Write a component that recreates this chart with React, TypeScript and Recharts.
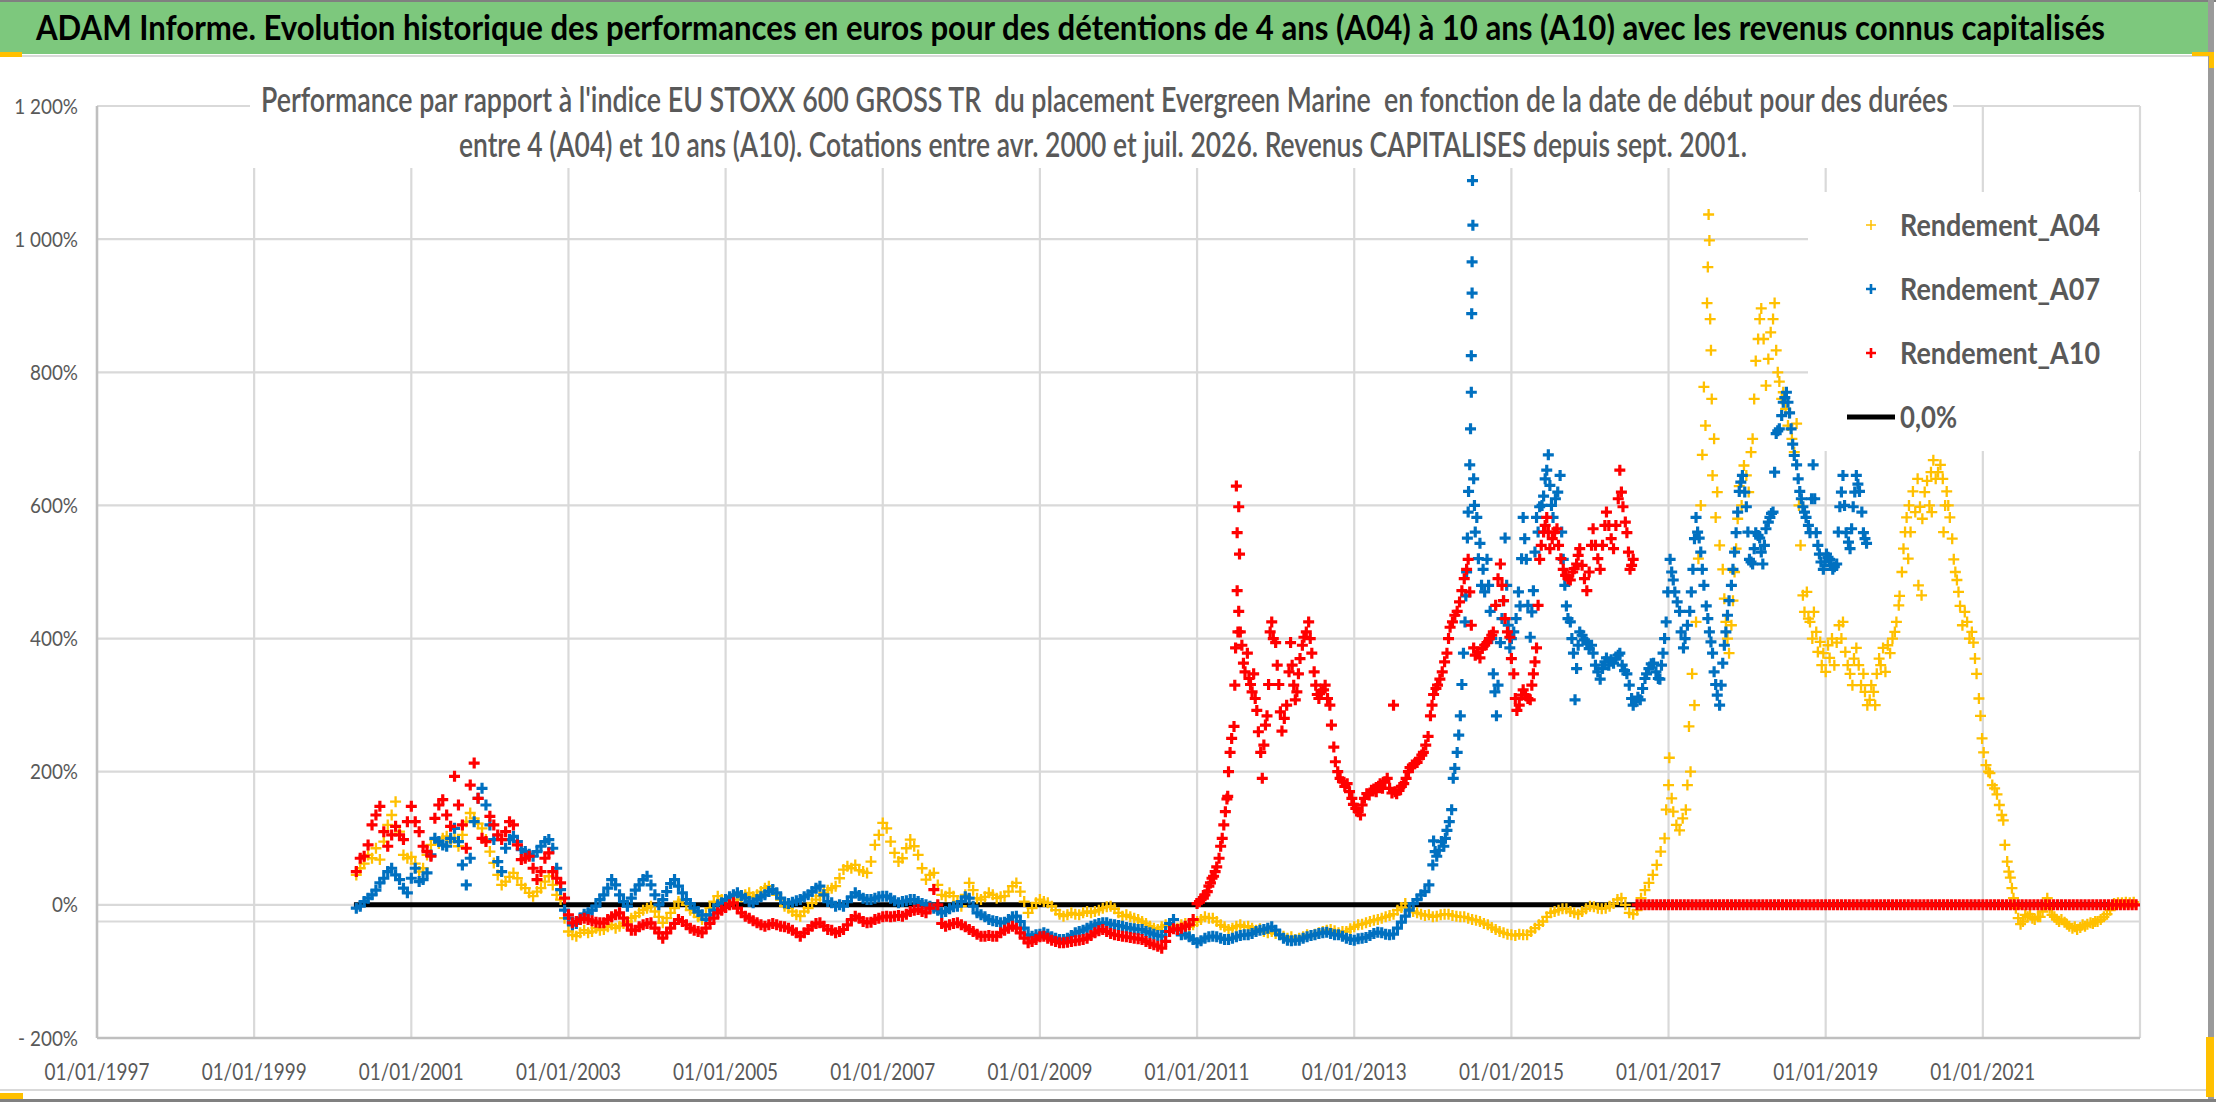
import React from "react";
import { ScatterChart, Scatter, XAxis, YAxis, CartesianGrid, ReferenceLine } from "recharts";

const W = 2216;
const H = 1102;
const FONT = "Lato, 'Open Sans', sans-serif";

const xTicks = [1997, 1999, 2001, 2003, 2005, 2007, 2009, 2011, 2013, 2015, 2017, 2019, 2021];
const xTickLabels = [
  "01/01/1997", "01/01/1999", "01/01/2001", "01/01/2003", "01/01/2005", "01/01/2007", "01/01/2009",
  "01/01/2011", "01/01/2013", "01/01/2015", "01/01/2017", "01/01/2019", "01/01/2021",
];
const yTicks = [-200, 0, 200, 400, 600, 800, 1000, 1200];
const yTickLabels = ["- 200%", "0%", "200%", "400%", "600%", "800%", "1 000%", "1 200%"];

// the horizontal axis of the original crosses a little under 0%
const axisCrossPct = -25;

// dense stretches, one quotation kept every STEP year from the given start
const STEP = 0.05;

const a04BandStart = 2000.3;
const a04Band = [
  45, 55, 62, 75, 70, 85, 68, 95, 120, 135, 155, 110, 75, 70, 72, 62, 50, 55, 75, 90,
  98, 92, 100, 103, 95, 100, 88, 105, 125, 138, 130, 122, 115, 98, 80, 63, 45, 30, 35, 42,
  48, 40, 30, 25, 18, 13, 20, 25, 35, 43, 30, 15, 8, -20, -40, -45, -47, -42, -38, -42,
  -40, -35, -38, -37, -33, -30, -35, -32, -28, -25, -20, -17, -12, -8, -5, -2, -10, -18, -27, -20,
  -12, -5, 5, 8, 0, -8, -12, -18, -22, -15, -5, 5, 13, 8, 5, 0, 3, 8, 12, 15,
  18, 12, 15, 20, 25, 28, 22, 15, 8, -2, -5, -10, -15, -17, -10, -5, 3, 8, 13, 18,
  22, 25, 28, 40, 53, 58, 55, 60, 52, 50, 48, 65, 90, 105, 123, 115, 95, 78, 65, 70,
  85, 98, 88, 75, 55, 38, 45, 48, 30, 15, 13, 18, 13, 5, -2, 15, 33, 22, 10, 8,
  12, 18, 15, 10, 12, 13, 20, 28, 33, 20, 5, -12, -5, 3, 8, 5, 3, -2, -8, -14,
  -17, -15, -12, -14, -15, -12, -10, -12, -10, -8, -5, -3, -2, -6, -12, -17, -15, -18, -20, -22,
  -25, -28, -32, -35, -37, -33, -30, -32, -32, -35, -30, -28, -33, -30, -25, -22, -18, -20, -20, -25,
  -30, -33, -37, -35, -32, -30, -33, -32, -35, -38, -36, -40, -42, -40, -43, -45, -47, -50, -48, -52,
  -50, -48, -45, -46, -44, -42, -40, -38, -37, -39, -42, -40, -40, -36, -33, -30, -29, -27, -25, -23,
  -22, -20, -18, -16, -14, -8, -4, 2, -5, -10, -12, -14, -16, -15, -18, -17, -15, -14, -14, -16,
  -17, -18, -18, -20, -22, -23, -25, -28, -30, -34, -37, -40, -42, -44, -45, -46, -44, -45, -45, -40,
  -35, -30, -25, -18, -12, -10, -8, -6, -6, -10, -12, -14, -10, -6, -2, -3, -5, -6, -5, -2,
  2, 8, 10, 0, -12, -14, -8, 10, 22, 33, 45, 60, 80, 100,
];
const a04Cloud: [number, number][] = [
  [2016.97, 143], [2017.0, 180], [2017.01, 221], [2017.04, 160], [2017.06, 140], [2017.1, 120], [2017.14, 112],
  [2017.18, 130], [2017.22, 143], [2017.24, 180], [2017.26, 268], [2017.28, 200], [2017.3, 347], [2017.33, 300],
  [2017.35, 425], [2017.38, 520], [2017.41, 600], [2017.43, 676], [2017.45, 778], [2017.47, 720], [2017.49, 904],
  [2017.5, 958], [2017.51, 1037], [2017.52, 998], [2017.53, 880], [2017.54, 833], [2017.55, 760], [2017.56, 645],
  [2017.58, 700], [2017.6, 582], [2017.62, 620], [2017.65, 540], [2017.69, 504], [2017.71, 460], [2017.73, 425],
  [2017.75, 400], [2017.77, 378], [2017.8, 420], [2017.82, 457], [2017.84, 500], [2017.86, 535], [2017.88, 580],
  [2017.9, 629], [2017.93, 600], [2017.96, 660], [2017.99, 645], [2018.02, 620], [2018.05, 680], [2018.07, 700],
  [2018.09, 760], [2018.11, 817], [2018.14, 850], [2018.16, 880], [2018.18, 896], [2018.21, 850], [2018.24, 780],
  [2018.27, 820], [2018.3, 860], [2018.33, 880], [2018.35, 904], [2018.37, 833], [2018.39, 800], [2018.41, 786],
  [2018.44, 760], [2018.46, 770], [2018.49, 745], [2018.52, 720], [2018.54, 739], [2018.57, 700], [2018.6, 680],
  [2018.63, 723], [2018.66, 600], [2018.68, 540], [2018.71, 465], [2018.73, 440], [2018.76, 470], [2018.78, 430],
  [2018.8, 425], [2018.83, 400], [2018.85, 440], [2018.88, 410], [2018.9, 380], [2018.93, 395], [2018.95, 360],
  [2018.97, 378], [2019.0, 350], [2019.03, 390], [2019.05, 371], [2019.08, 400], [2019.11, 360], [2019.14, 394],
  [2019.17, 420], [2019.2, 400], [2019.22, 425], [2019.25, 380], [2019.28, 360], [2019.31, 347], [2019.34, 330],
  [2019.36, 370], [2019.39, 386], [2019.42, 360], [2019.45, 330], [2019.48, 347], [2019.5, 320], [2019.53, 300],
  [2019.56, 308], [2019.58, 330], [2019.61, 320], [2019.63, 300], [2019.65, 347], [2019.68, 370], [2019.7, 360],
  [2019.73, 386], [2019.76, 350], [2019.79, 390], [2019.82, 378], [2019.85, 400], [2019.88, 410], [2019.9, 425],
  [2019.93, 450], [2019.94, 464], [2019.97, 500], [2019.99, 535], [2020.01, 560], [2020.03, 582], [2020.05, 520],
  [2020.06, 600], [2020.08, 560], [2020.11, 621], [2020.14, 590], [2020.17, 640], [2020.18, 480], [2020.2, 598],
  [2020.22, 465], [2020.23, 580], [2020.26, 620], [2020.29, 637], [2020.32, 600], [2020.34, 650], [2020.35, 590],
  [2020.37, 668], [2020.4, 640], [2020.43, 650], [2020.46, 661], [2020.49, 640], [2020.5, 560], [2020.52, 600],
  [2020.54, 621], [2020.56, 600], [2020.58, 582], [2020.61, 550], [2020.63, 519], [2020.65, 500], [2020.67, 488],
  [2020.69, 470], [2020.71, 449], [2020.74, 420], [2020.77, 440], [2020.8, 425], [2020.83, 400], [2020.86, 410],
  [2020.88, 394], [2020.9, 370], [2020.92, 347], [2020.95, 310], [2020.97, 284], [2020.99, 250], [2021.01, 229],
  [2021.04, 210], [2021.07, 200], [2021.09, 198], [2021.12, 180], [2021.15, 175], [2021.18, 166], [2021.21, 150],
  [2021.24, 135], [2021.26, 127], [2021.28, 90], [2021.31, 65], [2021.33, 50], [2021.35, 41], [2021.37, 25],
  [2021.39, 10], [2021.42, -5], [2021.45, -20], [2021.48, -29], [2021.51, -25], [2021.54, -15], [2021.57, -18],
  [2021.6, -14], [2021.63, -20], [2021.66, -22], [2021.7, -18], [2021.73, -18], [2021.76, -10], [2021.79, 0],
  [2021.82, 10], [2021.85, -5], [2021.88, -15], [2021.91, -18], [2021.94, -22], [2021.97, -25], [2022.0, -22],
  [2022.04, -26], [2022.07, -29], [2022.1, -32], [2022.14, -35], [2022.17, -33], [2022.2, -37], [2022.24, -34],
  [2022.27, -30], [2022.3, -32], [2022.33, -29], [2022.37, -27], [2022.4, -28], [2022.43, -25], [2022.46, -25],
  [2022.5, -22], [2022.54, -18], [2022.58, -14], [2022.62, -8], [2022.67, 2], [2022.72, 3], [2022.77, 3],
  [2022.82, 4], [2022.87, 3], [2022.92, 4],
];

const a07BandStart = 2000.3;
const a07Band = [
  -5, -2, 5, 10, 15, 22, 33, 40, 50, 55, 45, 38, 25, 18, 40, 55, 35, 38, 48, 75,
  100, 95, 90, 88, 100, 115, 95, 60, 30, 70, 125, 160, 175, 150, 120, 98, 65, 50, 85, 98,
  103, 95, 83, 80, 76, 73, 80, 88, 95, 98, 85, 55, 23, -8, -20, -30, -28, -20, -14, -12,
  -8, -2, 8, 15, 25, 38, 30, 15, 5, -2, 10, 22, 30, 38, 43, 30, 15, 0, 8, 20,
  32, 38, 28, 18, 8, 2, -5, -10, -15, -22, -15, -8, 0, 3, 8, 12, 15, 18, 14, 10,
  5, 3, 8, 12, 15, 20, 23, 18, 10, 3, 2, 4, 6, 8, 12, 15, 20, 25, 28, 15,
  5, 3, -2, 0, -2, 5, 12, 18, 14, 10, 8, 8, 10, 12, 13, 13, 10, 6, 3, 5,
  6, 8, 8, 5, 2, 0, -2, -5, -8, -12, -10, -6, -3, -2, 5, 12, 10, -2, -12, -15,
  -18, -22, -24, -25, -27, -26, -22, -18, -17, -25, -35, -45, -47, -45, -44, -42, -44, -48, -50, -52,
  -52, -50, -46, -42, -40, -38, -35, -32, -30, -28, -27, -27, -29, -30, -31, -32, -34, -35, -36, -37,
  -37, -40, -42, -44, -46, -47, -40, -28, -22, -38, -45, -44, -48, -52, -57, -54, -50, -48, -47, -48,
  -50, -52, -52, -50, -48, -46, -45, -45, -43, -40, -38, -37, -35, -33, -38, -45, -50, -53, -54, -53,
  -53, -50, -48, -46, -45, -43, -42, -41, -43, -45, -45, -47, -50, -52, -53, -51, -50, -49, -46, -43,
  -41, -42, -44, -45, -44, -35, -26, -17, -8, 2, 8, 15, 20, 30,
];
const a07Cloud: [number, number][] = [
  [2014.0, 60], [2014.01, 96], [2014.03, 80], [2014.05, 73], [2014.08, 82], [2014.11, 95], [2014.14, 88],
  [2014.16, 100], [2014.18, 112], [2014.21, 125], [2014.24, 143], [2014.26, 190], [2014.28, 205], [2014.31, 229],
  [2014.33, 255], [2014.35, 284], [2014.37, 331], [2014.39, 378], [2014.41, 425], [2014.42, 464], [2014.43, 500],
  [2014.44, 551], [2014.45, 590], [2014.455, 621], [2014.47, 661], [2014.48, 715], [2014.49, 770], [2014.49, 825],
  [2014.495, 888], [2014.5, 919], [2014.5, 966], [2014.51, 1021], [2014.505, 1088], [2014.52, 640], [2014.53, 600],
  [2014.54, 560], [2014.56, 582], [2014.58, 520], [2014.6, 543], [2014.62, 480], [2014.64, 504], [2014.66, 470],
  [2014.69, 519], [2014.71, 480], [2014.73, 441], [2014.75, 400], [2014.77, 347], [2014.79, 320], [2014.81, 284],
  [2014.83, 330], [2014.86, 394], [2014.88, 430], [2014.9, 457], [2014.92, 551], [2014.94, 480], [2014.96, 420],
  [2014.98, 386], [2015.0, 400], [2015.03, 410], [2015.06, 430], [2015.09, 470], [2015.11, 449], [2015.13, 520],
  [2015.15, 582], [2015.17, 550], [2015.19, 519], [2015.21, 450], [2015.24, 402], [2015.26, 440], [2015.28, 472],
  [2015.3, 530], [2015.32, 582], [2015.34, 560], [2015.36, 598], [2015.39, 600], [2015.41, 614], [2015.43, 640],
  [2015.45, 653], [2015.47, 676], [2015.49, 630], [2015.51, 600], [2015.53, 582], [2015.56, 610], [2015.59, 620],
  [2015.62, 645], [2015.64, 560], [2015.66, 519], [2015.68, 480], [2015.7, 449], [2015.72, 430], [2015.75, 425],
  [2015.77, 400], [2015.79, 378], [2015.81, 308], [2015.83, 355], [2015.85, 390], [2015.87, 410], [2015.9, 405],
  [2015.93, 398], [2015.96, 394], [2015.99, 385], [2016.02, 390], [2016.04, 378], [2016.07, 360], [2016.1, 350],
  [2016.13, 339], [2016.16, 355], [2016.19, 365], [2016.21, 371], [2016.24, 360], [2016.27, 368], [2016.3, 363],
  [2016.33, 370], [2016.36, 375], [2016.38, 378], [2016.41, 360], [2016.44, 352], [2016.47, 347], [2016.5, 330],
  [2016.53, 310], [2016.55, 300], [2016.58, 305], [2016.61, 312], [2016.64, 308], [2016.67, 325], [2016.7, 340],
  [2016.72, 347], [2016.75, 355], [2016.78, 362], [2016.81, 363], [2016.84, 350], [2016.87, 340], [2016.89, 339],
  [2016.91, 360], [2016.93, 378], [2016.95, 400], [2016.97, 425], [2016.99, 470], [2017.02, 519], [2017.04, 500],
  [2017.06, 488], [2017.08, 470], [2017.11, 455], [2017.14, 441], [2017.16, 410], [2017.19, 386], [2017.21, 400],
  [2017.24, 420], [2017.27, 441], [2017.29, 470], [2017.31, 504], [2017.33, 550], [2017.35, 582], [2017.37, 560],
  [2017.39, 551], [2017.41, 530], [2017.43, 504], [2017.45, 480], [2017.48, 449], [2017.5, 430], [2017.52, 410],
  [2017.54, 395], [2017.56, 378], [2017.58, 350], [2017.6, 331], [2017.62, 315], [2017.65, 300], [2017.67, 330],
  [2017.69, 363], [2017.71, 390], [2017.73, 410], [2017.75, 435], [2017.77, 457], [2017.8, 480], [2017.82, 504],
  [2017.84, 530], [2017.86, 559], [2017.88, 590], [2017.9, 621], [2017.92, 635], [2017.94, 645], [2017.97, 620],
  [2017.99, 598], [2018.01, 560], [2018.03, 519], [2018.05, 515], [2018.07, 512], [2018.09, 535], [2018.11, 559],
  [2018.14, 555], [2018.16, 551], [2018.18, 530], [2018.2, 512], [2018.22, 540], [2018.24, 565], [2018.27, 575],
  [2018.29, 582], [2018.31, 588], [2018.33, 590], [2018.35, 650], [2018.37, 708], [2018.39, 712], [2018.41, 715],
  [2018.44, 735], [2018.46, 755], [2018.48, 762], [2018.5, 770], [2018.52, 755], [2018.54, 739], [2018.56, 715],
  [2018.58, 692], [2018.6, 675], [2018.63, 661], [2018.65, 640], [2018.67, 621], [2018.69, 610], [2018.71, 598],
  [2018.73, 590], [2018.75, 582], [2018.78, 570], [2018.8, 559], [2018.82, 610], [2018.84, 661], [2018.86, 610],
  [2018.88, 559], [2018.9, 540], [2018.92, 527], [2018.94, 515], [2018.97, 504], [2018.99, 515], [2019.01, 527],
  [2019.03, 522], [2019.05, 519], [2019.07, 510], [2019.09, 504], [2019.11, 508], [2019.14, 512], [2019.16, 560],
  [2019.18, 598], [2019.2, 620], [2019.22, 645], [2019.24, 600], [2019.26, 559], [2019.29, 545], [2019.31, 535],
  [2019.33, 565], [2019.35, 598], [2019.37, 620], [2019.39, 645], [2019.41, 632], [2019.43, 621], [2019.46, 590],
  [2019.48, 559], [2019.5, 550], [2019.52, 543],
];

const a10BandStart = 2000.3;
const a10Band = [
  50, 70, 73, 90, 120, 135, 148, 110, 88, 105, 118, 105, 98, 125, 148, 125, 110, 88, 80, 73,
  130, 150, 158, 135, 118, 193, 150, 120, 85, 180, 213, 160, 100, 95, 133, 120, 105, 98, 110, 125,
  120, 90, 68, 70, 73, 55, 38, 50, 70, 78, 50, 40, 33, 10, -15, -27, -25, -22, -20, -22,
  -24, -26, -27, -27, -22, -18, -15, -12, -20, -30, -38, -38, -33, -30, -28, -27, -35, -42, -50, -42,
  -35, -28, -22, -25, -30, -35, -38, -40, -42, -35, -28, -20, -12, -8, -4, 0, 3, -5, -12, -17,
  -20, -24, -27, -30, -32, -30, -28, -30, -32, -33, -35, -38, -42, -47, -42, -37, -32, -28, -27, -32,
  -37, -38, -42, -40, -37, -30, -22, -17, -20, -25, -27, -26, -22, -20, -18, -17, -18, -17, -16, -17,
  -14, -10, -8, -7, -10, -12, -5, 23, 0, -28, -32, -30, -28, -27, -30, -33, -37, -40, -44, -47,
  -47, -46, -47, -47, -42, -38, -35, -32, -35, -42, -50, -57, -55, -52, -48, -47, -50, -53, -55, -57,
  -57, -56, -55, -54, -53, -52, -50, -46, -42, -39, -37, -40, -43, -45, -46, -47, -48, -49, -50, -51,
  -52, -55, -58, -60, -62, -65, -55, -40, -36, -37, -35, -32, -30, -22,
];
const a10Cloud: [number, number][] = [
  [2011.0, 2], [2011.03, 5], [2011.05, 8], [2011.08, 10], [2011.1, 15], [2011.13, 20], [2011.15, 28],
  [2011.17, 33], [2011.19, 40], [2011.21, 43], [2011.23, 50], [2011.25, 57], [2011.28, 70], [2011.3, 88],
  [2011.32, 100], [2011.34, 120], [2011.36, 140], [2011.38, 159], [2011.39, 163], [2011.4, 200], [2011.42, 229],
  [2011.44, 250], [2011.47, 268], [2011.48, 330], [2011.49, 386], [2011.5, 629], [2011.51, 559], [2011.51, 472],
  [2011.52, 410], [2011.53, 598], [2011.53, 441], [2011.54, 527], [2011.55, 410], [2011.57, 390], [2011.59, 363],
  [2011.61, 350], [2011.64, 378], [2011.66, 340], [2011.68, 331], [2011.7, 320], [2011.72, 347], [2011.74, 310],
  [2011.76, 292], [2011.78, 260], [2011.81, 229], [2011.83, 190], [2011.85, 240], [2011.87, 270], [2011.89, 284],
  [2011.91, 331], [2011.93, 410], [2011.95, 425], [2011.97, 400], [2012.0, 394], [2012.02, 360], [2012.04, 331],
  [2012.06, 290], [2012.08, 261], [2012.11, 280], [2012.14, 300], [2012.17, 350], [2012.19, 394], [2012.21, 360],
  [2012.23, 330], [2012.25, 308], [2012.27, 320], [2012.29, 347], [2012.31, 370], [2012.34, 390], [2012.36, 402],
  [2012.39, 410], [2012.42, 425], [2012.44, 400], [2012.46, 378], [2012.49, 350], [2012.51, 330], [2012.53, 316],
  [2012.55, 310], [2012.58, 320], [2012.61, 323], [2012.63, 330], [2012.66, 310], [2012.69, 300], [2012.71, 270],
  [2012.74, 237], [2012.76, 215], [2012.79, 200], [2012.82, 190], [2012.85, 185], [2012.88, 178], [2012.91, 182],
  [2012.94, 170], [2012.97, 160], [2012.99, 151], [2013.02, 145], [2013.05, 140], [2013.08, 135], [2013.1, 150],
  [2013.13, 160], [2013.16, 167], [2013.19, 165], [2013.22, 172], [2013.25, 174], [2013.28, 170], [2013.31, 178],
  [2013.33, 182], [2013.36, 175], [2013.39, 185], [2013.42, 190], [2013.45, 175], [2013.48, 168], [2013.5, 300],
  [2013.52, 170], [2013.54, 167], [2013.57, 172], [2013.6, 178], [2013.63, 182], [2013.66, 190], [2013.69, 200],
  [2013.71, 206], [2013.74, 210], [2013.77, 212], [2013.8, 214], [2013.83, 220], [2013.86, 225], [2013.88, 229],
  [2013.91, 240], [2013.94, 253], [2013.97, 284], [2013.99, 300], [2014.01, 316], [2014.04, 325], [2014.06, 330],
  [2014.09, 339], [2014.12, 350], [2014.15, 365], [2014.18, 378], [2014.2, 400], [2014.22, 417], [2014.25, 425],
  [2014.28, 435], [2014.31, 441], [2014.34, 455], [2014.37, 472], [2014.4, 490], [2014.43, 504], [2014.45, 519],
  [2014.47, 470], [2014.49, 420], [2014.52, 386], [2014.54, 375], [2014.57, 380], [2014.6, 371], [2014.63, 385],
  [2014.66, 390], [2014.69, 394], [2014.72, 400], [2014.75, 405], [2014.77, 410], [2014.8, 450], [2014.83, 490],
  [2014.86, 512], [2014.88, 480], [2014.9, 457], [2014.92, 430], [2014.95, 410], [2014.98, 402], [2015.0, 370],
  [2015.03, 347], [2015.05, 310], [2015.07, 292], [2015.1, 300], [2015.13, 315], [2015.15, 323], [2015.18, 315],
  [2015.21, 310], [2015.24, 308], [2015.26, 330], [2015.28, 347], [2015.3, 365], [2015.32, 386], [2015.34, 450],
  [2015.36, 519], [2015.38, 540], [2015.41, 560], [2015.43, 570], [2015.45, 582], [2015.47, 560], [2015.49, 535],
  [2015.52, 550], [2015.55, 560], [2015.58, 565], [2015.6, 540], [2015.63, 520], [2015.66, 504], [2015.69, 495],
  [2015.72, 490], [2015.75, 488], [2015.78, 500], [2015.8, 505], [2015.83, 512], [2015.85, 525], [2015.87, 535],
  [2015.9, 510], [2015.93, 490], [2015.96, 472], [2015.99, 500], [2016.02, 540], [2016.04, 565], [2016.07, 540],
  [2016.1, 520], [2016.13, 504], [2016.16, 540], [2016.19, 570], [2016.21, 590], [2016.24, 570], [2016.27, 550],
  [2016.3, 535], [2016.33, 570], [2016.36, 610], [2016.38, 653], [2016.4, 620], [2016.42, 598], [2016.45, 575],
  [2016.47, 559], [2016.49, 530], [2016.51, 504], [2016.53, 510], [2016.55, 519],
];
// from sept. 2016 the 10-year holdings are not complete: plotted at 0%
const a10ZeroStart = 2016.6;
const a10Zero = [
  0, 0, 0, 0, 0, 0, 0, 0, 0, 0, 0, 0, 0, 0, 0, 0, 0, 0, 0, 0, 0, 0, 0, 0, 0, 0, 0, 0, 0, 0, 0, 0,
  0, 0, 0, 0, 0, 0, 0, 0, 0, 0, 0, 0, 0, 0, 0, 0, 0, 0, 0, 0, 0, 0, 0, 0, 0, 0, 0, 0, 0, 0, 0, 0,
  0, 0, 0, 0, 0, 0, 0, 0, 0, 0, 0, 0, 0, 0, 0, 0, 0, 0, 0, 0, 0, 0, 0, 0, 0, 0, 0, 0, 0, 0, 0, 0,
  0, 0, 0, 0, 0, 0, 0, 0, 0, 0, 0, 0, 0, 0, 0, 0, 0, 0, 0, 0, 0, 0, 0, 0, 0, 0, 0, 0, 0, 0, 0, 0,
];

const zeroLine: [number, number][] = [[2000.27, 0], [2022.95, 0]];

const fromBand = (start: number, values: number[]) =>
  values.map((y, i) => ({ x: Math.round((start + i * STEP) * 100) / 100, y }));
const fromPairs = (pairs: [number, number][]) => pairs.map(([x, y]) => ({ x, y }));

const a04Data = [...fromBand(a04BandStart, a04Band), ...fromPairs(a04Cloud)];
const a07Data = [...fromBand(a07BandStart, a07Band), ...fromPairs(a07Cloud)];
const a10Data = [...fromBand(a10BandStart, a10Band), ...fromPairs(a10Cloud), ...fromBand(a10ZeroStart, a10Zero)];
const zeroData = fromPairs(zeroLine);

const YELLOW = "#FFC000";
const BLUE = "#0070C0";
const RED = "#FF0000";
const GRID = "#d9d9d9";
const TEXT = "#595959";

const plus = (color: string, width: number, half: number) => (props: any) => {
  const { cx, cy } = props;
  if (cx == null || cy == null) return <g />;
  return (
    <path
      d={`M${cx - half} ${cy}H${cx + half}M${cx} ${cy - half}V${cy + half}`}
      stroke={color}
      strokeWidth={width}
      fill="none"
    />
  );
};

const XTick = (props: any) => {
  const { x, y, payload } = props;
  const label = xTickLabels[xTicks.indexOf(payload.value)];
  return (
    <text x={x} y={y} dy="0.71em" textAnchor="middle" fontSize={23} fill={TEXT} fontFamily={FONT}
      textLength={105} lengthAdjust="spacingAndGlyphs">
      {label}
    </text>
  );
};

const YTick = (props: any) => {
  const { x, y, payload } = props;
  const label = yTickLabels[yTicks.indexOf(payload.value)];
  return (
    <g transform={`translate(${x},${y}) scale(0.9,1)`}>
      <text x={0} y={0} dy={7.5} textAnchor="end" fontSize={21} fill={TEXT} fontFamily={FONT}>
        {label}
      </text>
    </g>
  );
};

// text squeezed like the narrow font of the original: scaled group plus exact length
const Squeezed = ({ x, y, width, sx, size, weight, fill, children }: any) => (
  <g transform={`translate(${x},${y}) scale(${sx},1)`}>
    <text x={0} y={0} fontSize={size} fontWeight={weight} fill={fill} fontFamily={FONT}
      textLength={width / sx} lengthAdjust="spacingAndGlyphs" style={{ whiteSpace: "pre" }}>
      {children}
    </text>
  </g>
);

const legendItems = [
  { name: "Rendement_A04", color: YELLOW, width: 1.5, cy: 225 },
  { name: "Rendement_A07", color: BLUE, width: 2.6, cy: 289 },
  { name: "Rendement_A10", color: RED, width: 2.6, cy: 353 },
];

export default function App() {
  return (
    <div style={{ position: "absolute", left: 0, top: 0, width: W, height: H, background: "#fff" }}>
      <ScatterChart width={W} height={H} margin={{ top: 106, right: 76, bottom: 14, left: 7 }}>
        <CartesianGrid stroke={GRID} strokeWidth={2.2} />
        <XAxis
          dataKey="x"
          type="number"
          domain={[1997, 2023]}
          ticks={xTicks}
          interval={0}
          allowDataOverflow
          height={50}
          tickLine={false}
          tickSize={0}
          tickMargin={26}
          axisLine={{ stroke: "#bfbfbf", strokeWidth: 2.5 }}
          tick={<XTick />}
        />
        <YAxis
          dataKey="y"
          type="number"
          domain={[-200, 1200]}
          ticks={yTicks}
          interval={0}
          allowDataOverflow
          width={90}
          tickLine={false}
          tickSize={0}
          tickMargin={19}
          axisLine={{ stroke: "#bfbfbf", strokeWidth: 2.5 }}
          tick={<YTick />}
        />
        <ReferenceLine y={axisCrossPct} stroke={GRID} strokeWidth={2.2} />
        <Scatter
          name="0,0%"
          data={zeroData}
          line={{ stroke: "#000", strokeWidth: 5 }}
          shape={() => <g />}
          isAnimationActive={false}
        />
        <Scatter name="Rendement_A04" data={a04Data} shape={plus(YELLOW, 2.3, 5.5)} isAnimationActive={false} />
        <Scatter name="Rendement_A07" data={a07Data} shape={plus(BLUE, 3.2, 5.5)} isAnimationActive={false} />
        <Scatter name="Rendement_A10" data={a10Data} shape={plus(RED, 3.2, 5.5)} isAnimationActive={false} />
      </ScatterChart>

      <svg width={W} height={H} style={{ position: "absolute", left: 0, top: 0, pointerEvents: "none" }}>
        {/* title bar */}
        <rect x={0} y={0} width={2208} height={54} fill="#7DC87D" />
        <rect x={0} y={0} width={W} height={2} fill="#808080" />
        <rect x={0} y={55} width={2208} height={2} fill={GRID} />
        <Squeezed x={36} y={40} width={2069} sx={0.75} size={35} weight="bold" fill="#000">
          ADAM Informe. Evolution historique des performances en euros pour des détentions de 4 ans (A04) à 10 ans (A10) avec les revenus connus capitalisés
        </Squeezed>

        {/* chart frame */}
        <rect x={2208} y={0} width={6} height={H} fill="#9a9a9a" />
        <rect x={0} y={1089} width={2208} height={2} fill={GRID} />
        <rect x={0} y={1099} width={W} height={3} fill="#808080" />

        {/* selection handles */}
        <rect x={0} y={52} width={22} height={5} fill={YELLOW} />
        <rect x={2192} y={52} width={22} height={4} fill={YELLOW} />
        <rect x={2209} y={52} width={5} height={16} fill={YELLOW} />
        <rect x={0} y={1093} width={23} height={6} fill={YELLOW} />
        <rect x={2206} y={1037} width={8} height={60} fill={YELLOW} />

        {/* subtitle */}
        <rect x={250} y={60} width={1703} height={108} fill="#fff" />
        <Squeezed x={261} y={112} width={1687} sx={0.72} size={34} weight={600} fill={TEXT}>
          Performance par rapport à l'indice EU STOXX 600 GROSS TR  du placement Evergreen Marine  en fonction de la date de début pour des durées
        </Squeezed>
        <Squeezed x={459} y={157} width={1288} sx={0.7} size={34} weight={600} fill={TEXT}>
          entre 4 (A04) et 10 ans (A10). Cotations entre avr. 2000 et juil. 2026. Revenus CAPITALISES depuis sept. 2001.
        </Squeezed>

        {/* legend */}
        <rect x={1808} y={192} width={332} height={259} fill="#fff" />
        {legendItems.map((it) => (
          <g key={it.name}>
            <path d={`M${1866} ${it.cy}H${1876}M${1871} ${it.cy - 5}V${it.cy + 5}`} stroke={it.color} strokeWidth={it.width} />
            <text x={1900} y={it.cy + 11} fontSize={30} fontWeight="bold" fill={TEXT} fontFamily={FONT}
              textLength={200} lengthAdjust="spacingAndGlyphs">
              {it.name}
            </text>
          </g>
        ))}
        <line x1={1847} x2={1895} y1={417} y2={417} stroke="#000" strokeWidth={5} />
        <text x={1900} y={428} fontSize={30} fontWeight="bold" fill={TEXT} fontFamily={FONT}
          textLength={57} lengthAdjust="spacingAndGlyphs">
          0,0%
        </text>
      </svg>
    </div>
  );
}
